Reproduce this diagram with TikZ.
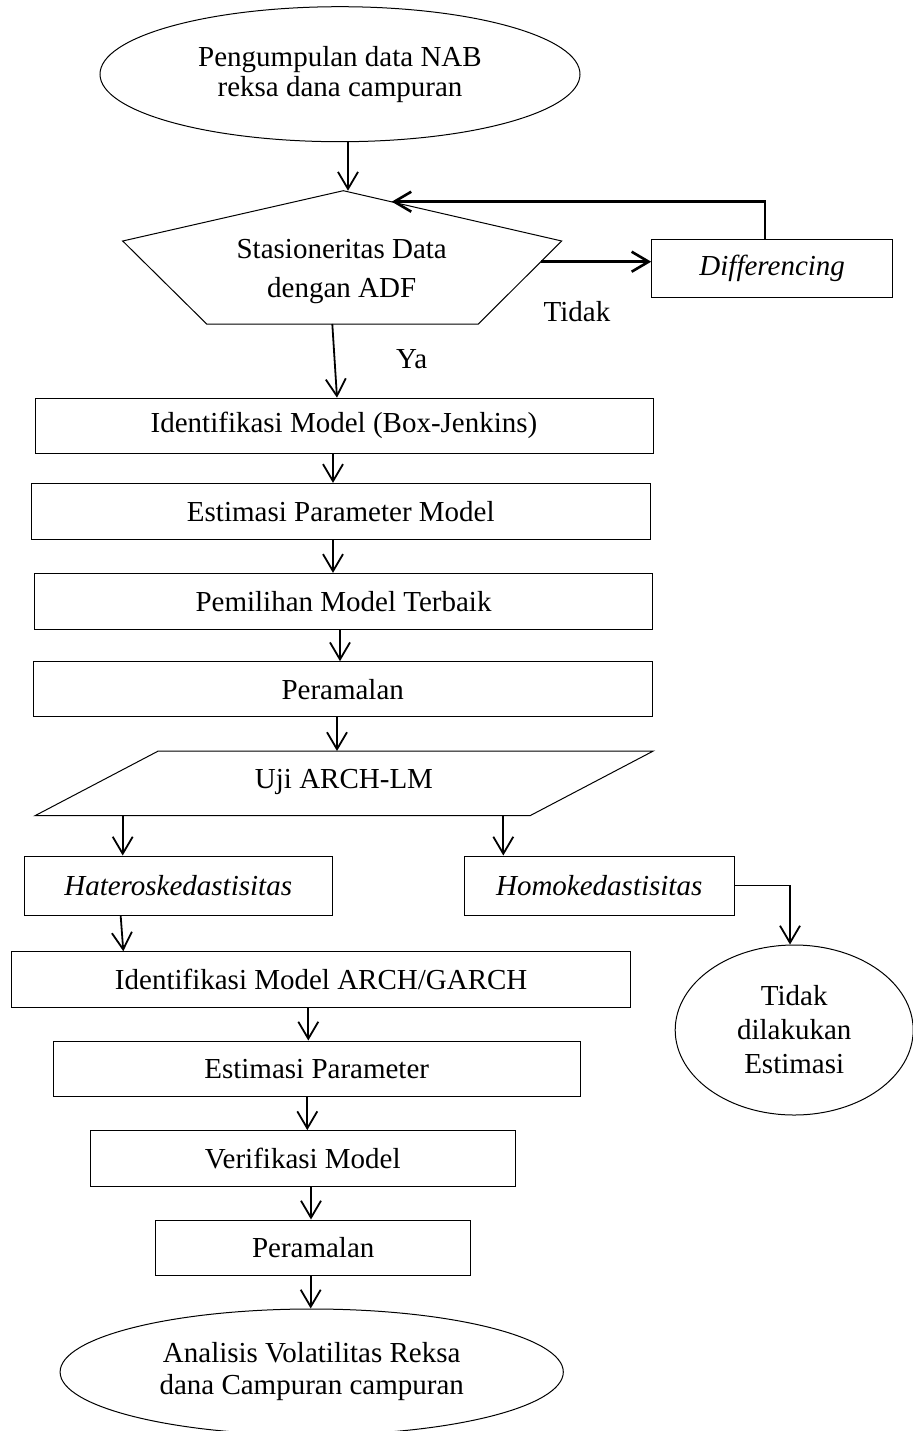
\documentclass[tikz,border=0pt]{standalone}
\usepackage{fontspec}
\setmainfont{Liberation Serif}
\usetikzlibrary{arrows.meta,shapes.geometric}
\tikzset{
  fc_node/.style = {align=center, inner sep=0pt, font=\fontsize{14.5}{17}\selectfont},
  fc_box/.style = {fc_node, rectangle, draw=black, line width=0.5pt},% kotak proses
  fc_term/.style = {fc_node, ellipse, draw=black, line width=0.5pt},% awal / akhir
  fc_txt/.style = {fc_node},% teks di dalam bangun
  fc_lbl/.style = {fc_node, anchor=base},% label ya / tidak
  fc_shape/.style = {draw=black, line width=0.5pt, line join=miter},% bangun bebas
  fc_arr/.style = {-{Straight Barb[length=8.5pt,width=10pt]}, line width=0.9pt},% panah
  fc_arr_b/.style = {fc_arr, line width=1.3pt}% panah tebal
}
\begin{document}
\begin{tikzpicture}[x=0.5pt,y=-0.5pt]
\useasboundingbox (0,0) rectangle (913,1431);

% awal
\node [fc_term, minimum width=240pt, minimum height=67.5pt,
  font=\fontsize{14.5}{15}\selectfont] (top) at (340,74.2) {Pengumpulan data NAB\\reksa dana campuran};

% uji stasioneritas (segi lima)
\coordinate (adf-t) at (343.3,190.7);
\coordinate (adf-r) at (561.7,241);
\coordinate (adf-br) at (478.3,324);
\coordinate (adf-bl) at (206.7,324);
\coordinate (adf-l) at (122.7,241);
\coordinate (adf-fb) at (391.7,201.7);
\coordinate (adf-out) at (541,261.7);
\coordinate (adf-b) at (332.3,324);
\draw [fc_shape] (adf-t) -- (adf-r) -- (adf-br) -- (adf-bl) -- (adf-l) -- cycle;
\node [fc_txt, font=\fontsize{14.5}{19.5}\selectfont] (adf) at (341.7,271.8) {Stasioneritas Data\\dengan ADF};

\node [fc_box, minimum width=120.5pt, minimum height=29pt] (diff) at (772.2,268.3) {\textit{Differencing}};
\node [fc_lbl] (tidak) at (577,321.7) {Tidak};
\node [fc_lbl] (ya) at (411.7,368) {Ya};

% Box-Jenkins
\node [fc_box, minimum width=309pt, minimum height=27.5pt] (b1) at (344,425.7) {Identifikasi Model (Box-Jenkins)};
\node [fc_box, minimum width=309.2pt, minimum height=27.8pt] (b2) at (340.8,511.2) {Estimasi Parameter Model};
\node [fc_box, minimum width=309.2pt, minimum height=27.8pt] (b3) at (343.5,601.2) {Pemilihan Model Terbaik};
\node [fc_box, minimum width=309.4pt, minimum height=27.5pt] (b4) at (342.7,689.2) {Peramalan};

% uji ARCH-LM (jajaran genjang)
\coordinate (uji-tl) at (158.3,751);
\coordinate (uji-tr) at (653.3,751);
\coordinate (uji-br) at (530,815.7);
\coordinate (uji-bl) at (35,815.7);
\draw [fc_shape] (uji-tl) -- (uji-tr) -- (uji-br) -- (uji-bl) -- cycle;
\node [fc_lbl] (uji) at (344,788) {Uji ARCH-LM};

\node [fc_box, minimum width=154.2pt, minimum height=29.8pt] (het) at (178.2,885.8) {\textit{Hateroskedastisitas}};
\node [fc_box, minimum width=135.2pt, minimum height=29.5pt] (hom) at (599.2,885.5) {\textit{Homokedastisitas}};
\node [fc_term, minimum width=119pt, minimum height=85pt] (tde) at (794.2,1030) {Tidak\\dilakukan\\Estimasi};

% ARCH/GARCH
\node [fc_box, minimum width=309.5pt, minimum height=28pt] (garch) at (321.2,979.7) {Identifikasi Model ARCH/GARCH};
\node [fc_box, minimum width=263.4pt, minimum height=27.8pt] (est) at (316.7,1068.8) {Estimasi Parameter};
\node [fc_box, minimum width=212.2pt, minimum height=27.7pt] (ver) at (302.8,1158.3) {Verifikasi Model};
\node [fc_box, minimum width=157.5pt, minimum height=27.5pt] (per) at (313.2,1247.5) {Peramalan};

% akhir
\node [fc_term, minimum width=251.6pt, minimum height=63pt,
  font=\fontsize{14.5}{16}\selectfont] (end) at (311.7,1372) {Analisis Volatilitas Reksa\\dana Campuran campuran};

% panah
\draw [fc_arr] (top.south -| 348,0) -- (adf-t -| 348,0);
\draw [fc_arr_b] (adf-out) -- (diff.west |- adf-out);
\draw [fc_arr_b] (diff.north -| 765,0) |- (adf-fb);
\draw [fc_arr] (adf-b) -- (b1.north -| 337,0);
\draw [fc_arr] (b1.south -| 333,0) -- (b2.north -| 333,0);
\draw [fc_arr] (b2.south -| 333,0) -- (b3.north -| 333,0);
\draw [fc_arr] (b3.south -| 340,0) -- (b4.north -| 340,0);
\draw [fc_arr] (b4.south -| 337,0) -- (uji-tl -| 337,0);
\draw [fc_arr] (uji-bl -| 122.7,0) -- (het.north -| 122.7,0);
\draw [fc_arr] (uji-bl -| 503.3,0) -- (hom.north -| 503.3,0);
\draw [fc_arr] (hom.east) -| (tde.north -| 790,0);
\draw [fc_arr] (het.south -| 120.7,0) -- (garch.north -| 123.3,0);
\draw [fc_arr] (garch.south -| 308.3,0) -- (est.north -| 308.3,0);
\draw [fc_arr] (est.south -| 307.3,0) -- (ver.north -| 307.3,0);
\draw [fc_arr] (ver.south -| 311,0) -- (per.north -| 311,0);
\draw [fc_arr] (per.south -| 310.7,0) -- (end.north -| 310.7,0);
\end{tikzpicture}
\end{document}
